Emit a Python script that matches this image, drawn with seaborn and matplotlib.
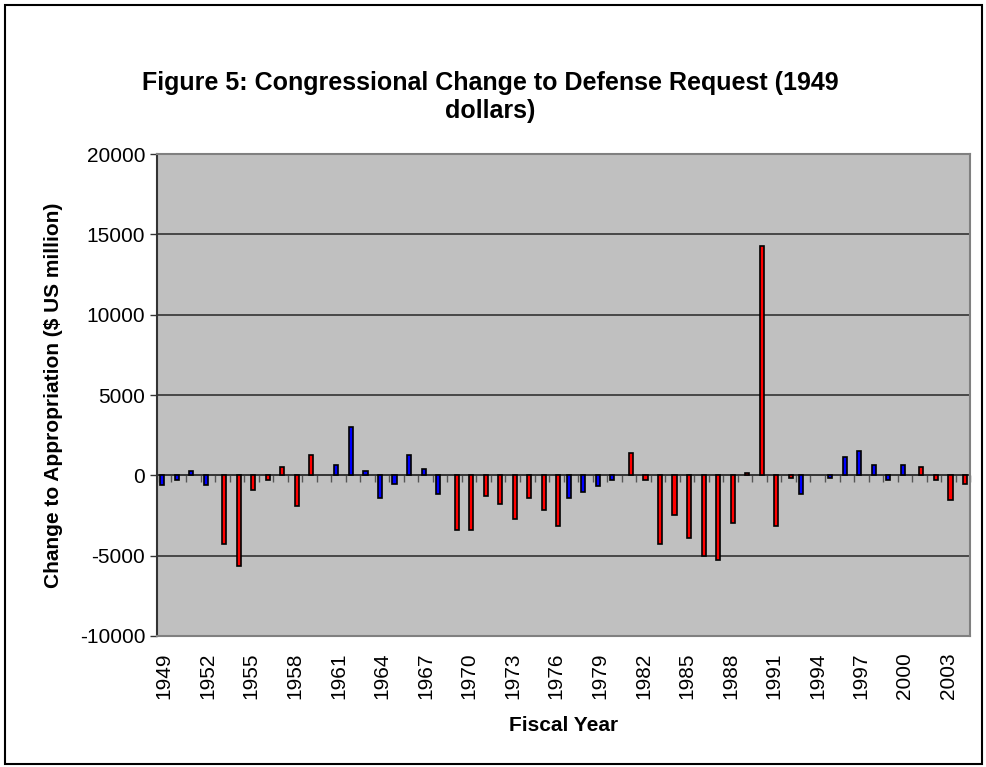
import numpy as np
import pandas as pd
import matplotlib
matplotlib.use("Agg")
import matplotlib.pyplot as plt
from matplotlib.patches import Rectangle
import seaborn as sns

# Fiscal years 1949-2004
anos = list(range(1949, 2005))

# Change to appropriation ($ US million, 1949 dollars)
valores = [
    -625, -270, 290, -625,                              # 1949-1952
    -4270, -5625, -900, -270, 520, -1900, 1270, np.nan, # 1953-1960
    650, 3020, 290, -1420, -520, 1270, 400, -1150,      # 1961-1968
    -3400, -3400, -1270, -1770, -2750, -1400, -2150, -3150,  # 1969-1976
    -1400, -1020, -650, -270,                           # 1977-1980
    1400, -270, -4270, -2500, -3875, -5000, -5270, -3000,    # 1981-1988
    170, 14300, -3150, -200,                            # 1989-1992
    -1150, np.nan, -200, 1150, 1520, 650, -270, 650,    # 1993-2000
    520, -270, -1520, -520,                             # 2001-2004
]

# party of the president in each year (bar colour)
partido = (["Democratic"] * 4 + ["Republican"] * 8 + ["Democratic"] * 8 +
           ["Republican"] * 8 + ["Democratic"] * 4 + ["Republican"] * 12 +
           ["Democratic"] * 8 + ["Republican"] * 4)

cores = {"Democratic": "#0000FF", "Republican": "#FF0000"}

df = pd.DataFrame({"ano": [str(a) for a in anos], "valor": valores, "partido": partido})
ordem = [str(a) for a in anos]

sns.set_style("white")
plt.rcParams["font.family"] = ["Liberation Sans", "DejaVu Sans"]
plt.rcParams["axes.unicode_minus"] = False
for chave in ["text.color", "axes.labelcolor", "xtick.color", "ytick.color"]:
    plt.rcParams[chave] = "black"

fig = plt.figure(figsize=(9.87, 7.67), dpi=100)
ax = fig.add_axes([0.159, 0.171, 0.824, 0.628])
ax.set_facecolor("#C0C0C0")

sns.barplot(data=df, x="ano", y="valor", hue="partido", order=ordem,
            hue_order=["Democratic", "Republican"], palette=cores, dodge=True,
            saturation=1, width=0.56, edgecolor="black", linewidth=1.2,
            legend=False, ax=ax)

ax.set_xlim(-0.5, len(anos) - 0.5)
ax.set_ylim(-10000, 20000)
ax.set_yticks(np.arange(-10000, 20001, 5000))
ax.yaxis.grid(True, color="#333333", linewidth=1.2)
ax.set_axisbelow(True)

# labels every third year at the bottom of the plot area
pos = list(range(0, len(anos), 3))
ax.set_xticks(pos)
ax.set_xticklabels([str(anos[i]) for i in pos], rotation=90, fontsize=15)
ax.tick_params(axis="x", length=0, pad=12)
ax.tick_params(axis="y", labelsize=15, length=5, width=1, color="#333333",
               direction="out", left=True)

# category axis crossing at zero with ticks at category boundaries
eixo = ax.secondary_xaxis(1 / 3)
eixo.set_xticks(np.arange(-0.5, len(anos), 1.0))
eixo.set_xticklabels([])
eixo.tick_params(axis="x", length=5, width=1, color="#555555", direction="out")
eixo.spines["bottom"].set_color("#333333")
eixo.spines["bottom"].set_linewidth(1.2)

for lado in ["top", "right", "bottom"]:
    ax.spines[lado].set_visible(True)
    ax.spines[lado].set_color("#808080")
    ax.spines[lado].set_linewidth(1.5)
ax.spines["left"].set_color("#333333")
ax.spines["left"].set_linewidth(1.5)

ax.set_xlabel("Fiscal Year", fontsize=15, fontweight="bold", labelpad=12)
ax.set_ylabel("Change to Appropriation ($ US million)", fontsize=15,
              fontweight="bold", labelpad=12)

fig.text(0.497, 0.874, "Figure 5: Congressional Change to Defense Request (1949\ndollars)",
         ha="center", va="center", fontsize=18, fontweight="bold", linespacing=1.2)

# chart area border
fig.patches.append(Rectangle((0.005, 0.004), 0.99, 0.99, transform=fig.transFigure,
                             fill=False, edgecolor="black", linewidth=1.5))

fig.savefig("out.png", dpi=100)
